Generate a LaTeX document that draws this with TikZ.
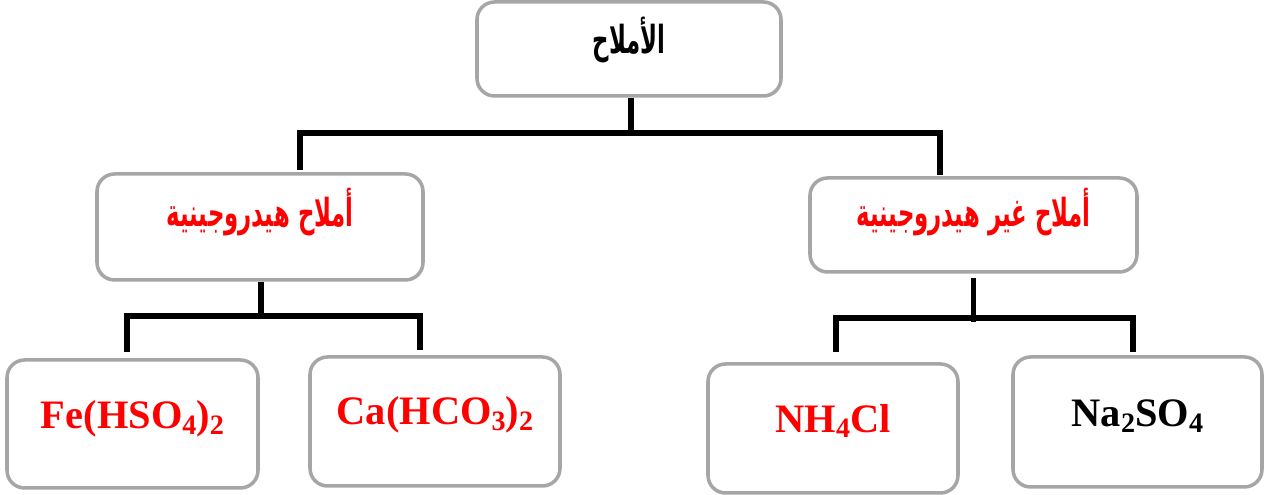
\documentclass[tikz,border=0pt]{standalone}
\usepackage{fontspec}
\setmainfont{Liberation Serif}
\newfontfamily\arabicfont[Script=Arabic]{DejaVu Sans}
\TeXXeTstate=1
\usetikzlibrary{positioning,calc}
\definecolor{BoxGray}{HTML}{A6A6A6}
\definecolor{SaltRed}{HTML}{FF0000}
\tikzset{
  saltbox/.style={draw=BoxGray,line width=1pt,rounded corners=5pt,fill=white,inner sep=0pt},
  conn/.style={draw=black,line width=1.5pt},
  artext/.style={font=\arabicfont\bfseries\fontsize{11}{13}\selectfont,inner sep=0pt},
  formula/.style={font=\bfseries\fontsize{11.5}{14}\selectfont,inner sep=0pt}
}
\newcommand{\sbs}[1]{\raisebox{-0.3ex}{\fontsize{8}{8}\selectfont #1}}
\newcommand{\artxt}[1]{\scalebox{.59}[1]{\arabicfont\beginR #1\endR}}

\begin{document}
\begin{tikzpicture}
  \useasboundingbox (0,0) rectangle (12.66,-4.95);
  % boxes
  \node[saltbox,minimum width=3.04cm,minimum height=.94cm] (salts) at (6.29,-.49) {};
  \node[saltbox,minimum width=3.26cm,minimum height=1.06cm] (hyd) at (2.60,-2.27) {};
  \node[saltbox,minimum width=3.27cm,minimum height=.94cm] (nonhyd) at (9.735,-2.25) {};
  \node[saltbox,minimum width=2.51cm,minimum height=1.28cm] (fe) at (1.325,-4.24) {};
  \node[saltbox,minimum width=2.50cm,minimum height=1.29cm] (ca) at (4.35,-4.215) {};
  \node[saltbox,minimum width=2.50cm,minimum height=1.29cm] (nh) at (8.33,-4.285) {};
  \node[saltbox,minimum width=2.49cm,minimum height=1.30cm] (na) at (11.375,-4.22) {};
  % texts
  \node[artext] (salts-t) at (6.29,-.40) {\artxt{الأملاح}};
  \node[artext,text=SaltRed] (hyd-t) at (2.60,-2.12) {\artxt{أملاح هيدروجينية}};
  \node[artext,text=SaltRed] (nonhyd-t) at (9.735,-2.12) {\artxt{أملاح غير هيدروجينية}};
  \node[formula,text=SaltRed] (fe-t) at (1.325,-4.19) {Fe(HSO\sbs{4})\sbs{2}};
  \node[formula,text=SaltRed] (ca-t) at (4.35,-4.15) {Ca(HCO\sbs{3})\sbs{2}};
  \node[formula,text=SaltRed] (nh-t) at (8.33,-4.21) {NH\sbs{4}Cl};
  \node[formula] (na-t) at (11.375,-4.16) {Na\sbs{2}SO\sbs{4}};
  % connectors
  \coordinate (bar1) at (0,-1.33);
  \coordinate (bar2) at (0,-3.16);
  \coordinate (bar3) at (0,-3.18);
  \coordinate (d-hyd) at (3.00,-1.70);
  \coordinate (d-nonhyd) at (9.40,-1.75);
  \coordinate (d-fe) at (1.27,-3.52);
  \coordinate (d-ca) at (4.20,-3.50);
  \coordinate (d-nh) at (8.36,-3.52);
  \coordinate (d-na) at (11.33,-3.52);
  \draw[conn] ([xshift=.02cm]salts.south) -- ([xshift=.02cm]salts.south |- bar1);
  \draw[conn] (d-hyd) -- (d-hyd |- bar1) -- (d-nonhyd |- bar1) -- (d-nonhyd);
  \draw[conn] ([xshift=.01cm]hyd.south) -- ([xshift=.01cm]hyd.south |- bar2);
  \draw[conn] (d-fe) -- (d-fe |- bar2) -- (d-ca |- bar2) -- (d-ca);
  \draw[conn] ([yshift=-.04cm]nonhyd.south) -- ([yshift=-.04cm]nonhyd.south |- bar3);
  \draw[conn] (d-nh) -- (d-nh |- bar3) -- (d-na |- bar3) -- (d-na);
\end{tikzpicture}
\end{document}
